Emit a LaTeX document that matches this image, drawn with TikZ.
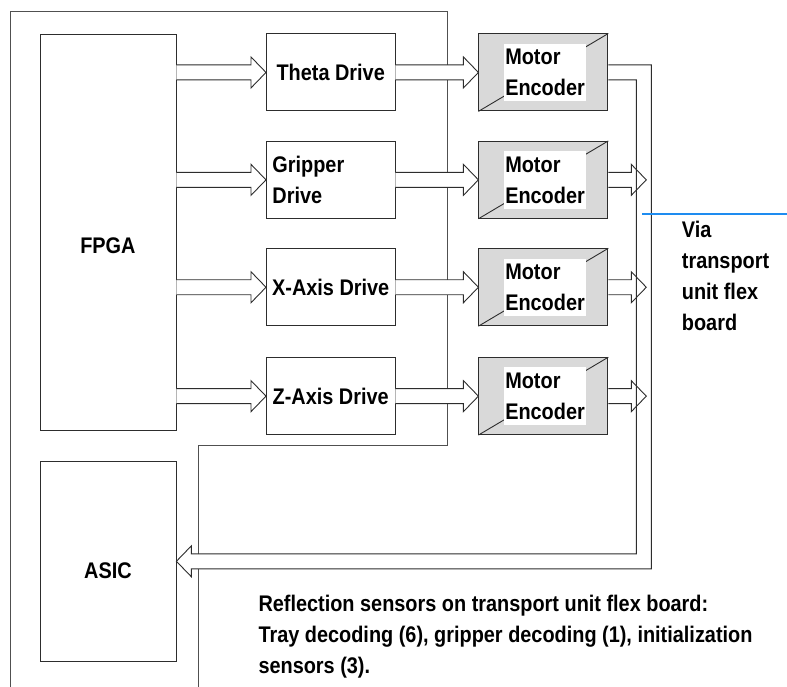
\documentclass[tikz,border=0pt]{standalone}
\usepackage{fontspec}
\setmainfont{Liberation Sans}[FakeStretch=0.88]
\usetikzlibrary{positioning, calc}
\definecolor{linegray}{RGB}{45,45,45}
\definecolor{framegray}{RGB}{80,80,80}
\definecolor{encfill}{RGB}{217,217,217}
\definecolor{viablue}{RGB}{30,140,240}
\tikzset{
  lbl/.style={font=\fontsize{22.6}{31}\selectfont\bfseries},
  bigbox/.style={rectangle, draw=linegray, fill=white, line width=0.9pt,
    minimum width=136pt},
  drive/.style={rectangle, draw=linegray, line width=0.9pt, minimum width=128.5pt,
    minimum height=77pt, inner sep=2pt, align=center, lbl},
  motor/.style={rectangle, draw=linegray, fill=encfill, line width=0.9pt,
    minimum width=129pt, minimum height=77pt},
  mtrtext/.style={rectangle, fill=white, minimum width=81pt, minimum height=57.4pt,
    inner sep=1pt, align=left, lbl},
  bevel/.style={draw=linegray, line width=0.9pt},
  frame/.style={draw=framegray, line width=0.9pt},
  harrow/.style={draw=linegray, line width=0.9pt, fill=white},
  bus/.style={draw=linegray, line width=0.9pt, fill=white},
  blueline/.style={draw=viablue, line width=1.8pt},
  note/.style={inner sep=0pt, align=left, lbl},
}
% hollow block arrow, left to right
\newcommand{\hollowarrow}[3][]{%
  \draw[harrow,#1] let \p1=#2, \p2=#3 in
    (\x1,\y1+7.5pt) -- (\x2-15pt,\y1+7.5pt) -- (\x2-15pt,\y1+15.5pt)
    -- (\x2,\y1) -- (\x2-15pt,\y1-15.5pt) -- (\x2-15pt,\y1-7.5pt) -- (\x1,\y1-7.5pt);
}

\begin{document}
\begin{tikzpicture}[x=1pt, y=-1pt]
  \useasboundingbox (0,0) rectangle (787,687);

  % board outline
  \draw[frame] (10,687) -- (10,11) -- (447.5,11) -- (447.5,445) -- (198.7,445) -- (198.7,687);

  \node[bigbox, minimum height=396pt, anchor=north west] (fpga) at (39.5,34) {};
  \node[lbl] (fpgatext) at ([yshift=-13pt]fpga.center) {FPGA};
  \node[bigbox, minimum height=200.3pt, anchor=north west] (asic) at (39.5,460.7) {};
  \node[lbl] (asictext) at ([yshift=-9.5pt]asic.center) {ASIC};

  \node[drive, anchor=north west] (theta) at (266,33.5) {Theta Drive};
  \node[drive, below=29.5pt of theta, text width=116.5pt, inner xsep=6pt, align=left] (gripper) {Gripper\\Drive};
  \node[drive, below=29.5pt of gripper] (xaxis) {X-Axis Drive};
  \node[drive, below=31pt of xaxis] (zaxis) {Z-Axis Drive};

  \foreach \d/\i in {theta/1, gripper/2, xaxis/3, zaxis/4} {
    \node[motor, right=83pt of \d] (mtr\i) {};
    \draw[bevel] (mtr\i.south west) -- ++(32,-19);
    \draw[bevel] (mtr\i.north east) -- ++(-32,19);
    \node[mtrtext] (mtrtext\i) at ([xshift=1.7pt]mtr\i.center) {Motor\\Encoder};
  }

  \foreach \d/\i in {theta/1, gripper/2, xaxis/3, zaxis/4} {
    \hollowarrow{(fpga.east |- \d.west)}{(\d.west)}
    \hollowarrow{(\d.east)}{(mtr\i.west)}
  }

  % return path to the ASIC
  \coordinate (busmid) at (643.8,0);
  \draw[bus] let \p1=(mtr1.east), \p2=(asic.east), \p3=(busmid) in
    (\x1,\y1+7.5pt) -- (\x3+7.5pt,\y1+7.5pt) -- (\x3+7.5pt,\y2-7.5pt)
    -- (\x2+15pt,\y2-7.5pt) -- (\x2+15pt,\y2-15.5pt) -- (\x2,\y2)
    -- (\x2+15pt,\y2+15.5pt) -- (\x2+15pt,\y2+7.5pt)
    -- (\x3-7.5pt,\y2+7.5pt) -- (\x3-7.5pt,\y1-7.5pt) -- (\x1,\y1-7.5pt);

  \foreach \i in {2,3,4} {
    \coordinate (tip\i) at ([xshift=38pt]mtr\i.east);
    \hollowarrow[fill=none]{(mtr\i.east)}{(tip\i)}
  }

  \coordinate (blueA) at (642.3,214);
  \coordinate (blueB) at (787,214);
  \draw[blueline] (blueA) -- (blueB);

  \node[note, anchor=north west] (via) at (681.7,220.5) {Via\\transport\\unit flex\\board};
  \node[note, anchor=north west] (sensors) at (258.3,594.5)
    {Reflection sensors on transport unit flex board:\\Tray decoding (6), gripper decoding (1), initialization\\sensors (3).};
\end{tikzpicture}
\end{document}
